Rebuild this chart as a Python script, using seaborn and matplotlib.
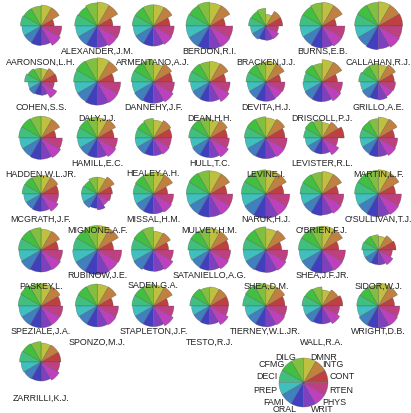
import numpy as np
import pandas as pd
import matplotlib
matplotlib.use("Agg")
import matplotlib.pyplot as plt
from matplotlib.patches import Wedge
import seaborn as sns

# US judge ratings (one list per rating variable)
judges = ["AARONSON,L.H.", "ALEXANDER,J.M.", "ARMENTANO,A.J.", "BERDON,R.I.", "BRACKEN,J.J.",
          "BURNS,E.B.", "CALLAHAN,R.J.", "COHEN,S.S.", "DALY,J.J.", "DANNEHY,J.F.", "DEAN,H.H.",
          "DEVITA,H.J.", "DRISCOLL,P.J.", "GRILLO,A.E.", "HADDEN,W.L.JR.", "HAMILL,E.C.",
          "HEALEY.A.H.", "HULL,T.C.", "LEVINE,I.", "LEVISTER,R.L.", "MARTIN,L.F.", "MCGRATH,J.F.",
          "MIGNONE,A.F.", "MISSAL,H.M.", "MULVEY,H.M.", "NARUK,H.J.", "O'BRIEN,F.J.",
          "O'SULLIVAN,T.J.", "PASKEY,L.", "RUBINOW,J.E.", "SADEN.G.A.", "SATANIELLO,A.G.",
          "SHEA,D.M.", "SHEA,J.F.JR.", "SIDOR,W.J.", "SPEZIALE,J.A.", "SPONZO,M.J.",
          "STAPLETON,J.F.", "TESTO,R.J.", "TIERNEY,W.L.JR.", "WALL,R.A.", "WRIGHT,D.B.",
          "ZARRILLI,K.J."]

CONT = [5.7, 6.8, 7.2, 6.8, 7.3, 6.2, 10.6, 7.0, 7.3, 8.2, 7.0, 6.5, 6.7, 7.0, 6.5, 7.3, 8.0, 7.7,
        8.3, 9.6, 7.1, 7.6, 6.6, 6.2, 7.5, 7.8, 7.1, 7.5, 7.5, 7.1, 6.6, 8.4, 6.9, 7.3, 7.7, 8.5,
        6.9, 6.5, 8.3, 8.3, 9.0, 7.1, 8.6]
INTG = [7.9, 8.9, 8.1, 8.8, 6.4, 8.8, 9.0, 5.9, 8.9, 7.9, 8.0, 8.0, 8.6, 7.5, 8.1, 8.0, 7.6, 7.7,
        8.2, 6.9, 8.2, 7.3, 7.4, 8.3, 8.7, 8.9, 8.5, 9.0, 8.1, 9.2, 7.4, 8.0, 8.5, 8.9, 6.2, 8.3,
        8.3, 8.2, 7.3, 8.2, 7.0, 8.4, 7.4]
DMNR = [7.7, 8.8, 7.8, 8.5, 4.3, 8.7, 8.9, 4.9, 8.9, 6.7, 7.6, 7.6, 8.2, 6.4, 8.0, 7.4, 6.6, 6.7,
        7.4, 5.7, 7.7, 6.9, 6.2, 8.1, 8.5, 8.7, 8.3, 8.9, 7.7, 9.0, 6.9, 7.9, 7.8, 8.8, 5.1, 8.1,
        8.0, 7.7, 7.0, 7.8, 5.9, 8.4, 7.0]
DILG = [7.3, 8.5, 7.8, 8.8, 6.5, 8.5, 8.7, 5.1, 8.7, 8.1, 7.4, 7.2, 6.8, 6.8, 8.0, 7.7, 7.2, 7.5,
        7.8, 6.6, 7.1, 6.8, 6.2, 7.7, 8.6, 8.9, 8.0, 8.7, 8.2, 9.0, 8.4, 7.9, 8.5, 8.7, 5.6, 8.3,
        8.1, 7.8, 6.8, 8.3, 7.0, 7.7, 7.5]
CFMG = [7.1, 7.8, 7.5, 8.3, 6.0, 7.9, 8.5, 5.4, 8.6, 7.9, 7.3, 7.0, 6.9, 6.5, 7.9, 7.3, 6.5, 7.4,
        7.7, 6.9, 6.6, 6.7, 5.4, 7.4, 8.5, 8.7, 7.9, 8.4, 8.0, 8.4, 8.0, 7.8, 8.1, 8.4, 5.6, 8.4,
        7.9, 7.6, 7.0, 8.4, 7.0, 7.5, 7.5]
DECI = [7.4, 8.1, 7.6, 8.5, 6.2, 8.0, 8.5, 5.9, 8.5, 8.0, 7.5, 7.1, 6.6, 7.0, 8.0, 7.3, 6.5, 7.5,
        7.7, 6.6, 6.6, 6.8, 5.7, 7.3, 8.4, 8.8, 7.9, 8.5, 8.1, 8.6, 7.9, 7.8, 8.2, 8.5, 5.9, 8.2,
        7.9, 7.7, 7.1, 8.3, 7.2, 7.7, 7.7]
PREP = [7.1, 8.0, 7.5, 8.7, 5.7, 8.1, 8.5, 4.8, 8.4, 7.9, 7.1, 6.9, 7.1, 6.6, 7.9, 7.3, 6.8, 7.1,
        7.7, 6.2, 6.7, 6.4, 5.8, 7.3, 8.5, 8.9, 7.8, 8.4, 8.2, 9.1, 8.2, 7.6, 8.4, 8.5, 5.6, 8.2,
        7.9, 7.7, 6.7, 7.7, 6.9, 7.8, 7.4]
FAMI = [7.1, 8.0, 7.5, 8.7, 5.7, 8.0, 8.5, 5.1, 8.4, 8.1, 7.2, 7.0, 7.3, 6.8, 7.8, 7.2, 6.7, 7.3,
        7.8, 6.0, 6.7, 6.3, 5.9, 7.3, 8.5, 9.0, 7.8, 8.3, 8.4, 9.1, 8.4, 7.4, 8.5, 8.5, 5.6, 8.1,
        7.7, 7.7, 6.7, 7.6, 6.9, 8.2, 7.2]
ORAL = [7.1, 7.8, 7.3, 8.4, 5.1, 8.0, 8.6, 4.7, 8.4, 7.7, 7.1, 7.0, 7.2, 6.3, 7.8, 7.1, 6.4, 7.1,
        7.5, 5.8, 6.8, 6.3, 5.2, 7.2, 8.4, 8.8, 7.8, 8.3, 8.0, 8.9, 7.7, 7.4, 8.1, 8.4, 5.3, 7.9,
        7.6, 7.5, 6.7, 7.5, 6.5, 8.0, 6.9]
WRIT = [7.0, 7.9, 7.4, 8.5, 5.3, 8.0, 8.4, 4.9, 8.5, 7.8, 7.2, 7.1, 7.2, 6.6, 7.8, 7.2, 6.5, 7.3,
        7.6, 5.8, 6.8, 6.3, 5.8, 7.3, 8.4, 8.9, 7.7, 8.3, 8.1, 9.0, 7.9, 7.4, 8.3, 8.4, 5.5, 8.0,
        7.7, 7.6, 6.7, 7.7, 6.6, 8.1, 7.0]
PHYS = [8.3, 8.5, 7.9, 8.8, 5.5, 8.6, 9.1, 6.8, 8.8, 8.5, 8.4, 6.9, 8.1, 6.2, 8.4, 8.0, 6.9, 8.1,
        8.0, 7.2, 7.5, 7.4, 4.7, 7.8, 8.7, 9.0, 8.3, 8.8, 8.4, 8.9, 8.4, 8.1, 8.7, 8.8, 6.3, 8.0,
        8.1, 8.5, 8.0, 8.1, 7.6, 8.3, 7.8]
RTEN = [7.8, 8.7, 7.8, 8.7, 4.8, 8.6, 9.0, 5.0, 8.8, 7.9, 7.7, 7.2, 7.7, 6.5, 8.0, 7.6, 6.7, 7.4,
        8.0, 6.0, 7.3, 6.6, 5.2, 7.6, 8.7, 9.0, 8.2, 8.7, 8.1, 9.2, 7.5, 7.9, 8.3, 8.8, 5.3, 8.2,
        8.0, 7.7, 7.0, 7.9, 6.6, 8.1, 7.1]

variables = ["CONT", "INTG", "DMNR", "DILG", "CFMG", "DECI",
             "PREP", "FAMI", "ORAL", "WRIT", "PHYS", "RTEN"]

df = pd.DataFrame(dict(zip(variables, [CONT, INTG, DMNR, DILG, CFMG, DECI,
                                       PREP, FAMI, ORAL, WRIT, PHYS, RTEN])), index=judges)
# each rating relative to its own maximum
scaled = df / df.max()

sns.set_theme(style="white")
plt.rcParams["font.family"] = ["Liberation Sans", "DejaVu Sans"]
colors = sns.hls_palette(len(variables), h=0, l=0.5, s=0.5)

W, H = 411, 414
fig = plt.figure(figsize=(W / 100, H / 100), dpi=100)
ax = fig.add_axes([0, 0, 1, 1])
ax.set_xlim(0, W)
ax.set_ylim(0, H)
ax.set_aspect("equal")
ax.axis("off")

R = 24.5
ncol = 7
x0, dx = 41, 56.2
y0, dy = 27, 56
step = 360 / len(variables)
edge = (0.25, 0.25, 0.25, 0.5)


def draw_star(cx, cy, radii):
    for k, r in enumerate(radii):
        ax.add_patch(Wedge((cx, cy), r, k * step, (k + 1) * step,
                           facecolor=colors[k], edgecolor=edge, linewidth=0.35))


for i, name in enumerate(judges):
    row, col = divmod(i, ncol)
    cx = x0 + dx * col
    cy = H - (y0 + dy * row)
    draw_star(cx, cy, scaled.loc[name].values * R)
    off = 35 if i % 2 == 0 else 24.5
    ax.text(cx, cy - off, name, ha="center", va="center", fontsize=6.4, color="#222222")

# key
kx, ky = 303.5, H - 383.5
draw_star(kx, ky, [R] * len(variables))
for k, lab in enumerate(variables):
    a = np.deg2rad((k + 0.5) * step)
    ha = "left" if np.cos(a) > 0 else "right"
    ax.text(kx + 1.1 * R * np.cos(a), ky + 1.1 * R * np.sin(a), lab,
            ha=ha, va="center", fontsize=6.4, color="#222222")

fig.savefig("out.png", dpi=100)
